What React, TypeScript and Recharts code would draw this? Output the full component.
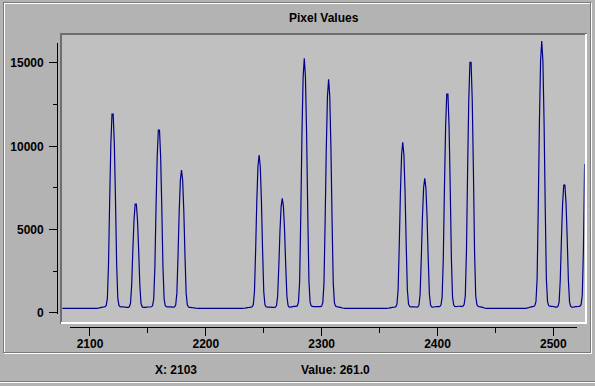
import React from 'react';
import { LineChart, Line, XAxis, YAxis } from 'recharts';

const BASELINE = 261;
const baselineAnchors = [2076];

const group1Start = 2106;
const group1 = [261, 273, 287, 309, 320, 332, 344, 362, 439, 856, 2938, 6805, 10137, 11922, 11922, 10137, 6805, 2938, 856, 439, 362, 350, 346, 346, 341, 325, 318, 315, 357, 580, 1699, 3775, 5564, 6522, 6522, 5564, 3775, 1699, 580, 357, 315, 317, 323, 337, 342, 341, 343, 354, 425, 807, 2718, 6266, 9324, 10962, 10962, 9324, 6266, 2718, 807, 425, 359, 349, 352, 353, 351, 339, 334, 344, 469, 1174, 3415, 6072, 7939, 8562, 7939, 6072, 3415, 1174, 469, 344, 323, 315, 307, 298, 286, 273, 266, 261];

const group2Start = 2232;
const group2 = [261, 267, 275, 289, 302, 312, 321, 330, 353, 491, 1273, 3757, 6702, 8772, 9462, 8772, 6702, 3757, 1273, 491, 353, 334, 331, 332, 332, 325, 318, 317, 327, 426, 987, 2770, 4883, 6369, 6864, 6369, 4883, 2770, 987, 426, 336, 334, 349, 365, 374, 379, 384, 415, 636, 1911, 5962, 10763, 14139, 15264, 14139, 10763, 5962, 1911, 636, 411, 376, 367, 365, 370, 368, 360, 359, 364, 398, 605, 1773, 5483, 9881, 12973, 14004, 12973, 9881, 5483, 1773, 605, 398, 364, 350, 337, 323, 302, 282, 269, 261];

const group3Start = 2356;
const group3 = [261, 267, 276, 291, 306, 316, 326, 336, 361, 510, 1357, 4047, 7235, 9477, 10224, 9477, 7235, 4047, 1357, 510, 366, 348, 349, 351, 349, 342, 335, 345, 456, 1119, 3226, 5723, 7479, 8064, 7479, 5723, 3226, 1119, 456, 344, 333, 341, 356, 362, 363, 365, 378, 458, 917, 3214, 7479, 11153, 13122, 13122, 11153, 7479, 3214, 917, 458, 379, 368, 373, 387, 388, 380, 379, 389, 487, 1014, 3650, 8546, 12764, 15024, 15024, 12764, 8546, 3650, 1014, 487, 389, 366, 351, 336, 321, 294, 276, 261];

const group4Start = 2476;
const group4 = [261, 271, 285, 309, 333, 349, 365, 381, 421, 662, 2026, 6357, 11490, 15099, 16302, 15099, 11490, 6357, 2026, 662, 421, 389, 382, 379, 371, 354, 338, 335, 374, 639, 1960, 4415, 6529, 7662, 7662, 6529, 4415, 1960, 639, 374, 332, 330, 341, 362, 370, 372, 379, 395, 497, 1048, 3804, 8922];

const X_DOMAIN = [2076, 2527];
const Y_DOMAIN = [-600, 16800];
const X_TICKS = [2100, 2150, 2200, 2250, 2300, 2350, 2400, 2450, 2500];
const X_LABELED = [2100, 2200, 2300, 2400, 2500];
const Y_TICKS = [0, 2500, 5000, 7500, 10000, 12500, 15000];
const Y_LABELED = [0, 5000, 10000, 15000];

const TITLE = 'Pixel Values';
const STATUS_X = 'X: 2103';
const STATUS_VALUE = 'Value: 261.0';

const groups: [number, number[]][] = [
  [group1Start, group1],
  [group2Start, group2],
  [group3Start, group3],
  [group4Start, group4],
];

const data = [
  ...baselineAnchors.map((x) => ({ x, v: BASELINE })),
  ...groups.flatMap(([s, vals]) => vals.map((v, i) => ({ x: s + i, v }))),
];

const FONT = "'Liberation Sans', Arial, Helvetica, sans-serif";

const YTick = (props: any) => {
  const { x, y, payload } = props;
  const v = payload.value;
  const major = Y_LABELED.includes(v);
  const yy = Math.floor(y) + 0.5;
  const axisX = x - 4.2;
  return (
    <g>
      <line x1={axisX - (major ? 9 : 5.5)} x2={axisX} y1={yy} y2={yy} stroke="#000" strokeWidth={1} shapeRendering="crispEdges" />
      {major && (
        <text x={x - 18.5} y={y + 4.6} textAnchor="end" fontFamily={FONT} fontWeight={700} fontSize={12} fill="#000">
          {v}
        </text>
      )}
    </g>
  );
};

const XTick = (props: any) => {
  const { x, y, payload } = props;
  const v = payload.value;
  const major = X_LABELED.includes(v);
  const xx = Math.floor(x) + 0.5;
  const axisY = y + 4.8;
  return (
    <g>
      <line x1={xx} x2={xx} y1={axisY} y2={axisY + (major ? 8 : 5.5)} stroke="#000" strokeWidth={1} shapeRendering="crispEdges" />
      {major && (
        <text x={x} y={y + 25} textAnchor="middle" fontFamily={FONT} fontWeight={700} fontSize={12} fill="#000">
          {v}
        </text>
      )}
    </g>
  );
};

export default function App() {
  return (
    <div style={{ position: 'absolute', left: 0, top: 0, width: 595, height: 386, background: '#b3b3b3', overflow: 'hidden' }}>
      <svg width={595} height={386} style={{ position: 'absolute', left: 0, top: 0 }} shapeRendering="crispEdges">
        <rect x={0} y={0} width={595} height={386} fill="#b3b3b3" />
        <rect x={4.5} y={3.5} width={587} height={350} fill="none" stroke="#ffffff" />
        <rect x={3.5} y={2.5} width={587} height={350} fill="none" stroke="#7a7a7a" />
        <rect x={60} y={33} width={527} height={291} fill="#c0c0c0" />
        <rect x={60} y={33} width={527} height={2} fill="#6e6e6e" />
        <rect x={60} y={33} width={2} height={291} fill="#6e6e6e" />
        <rect x={61} y={322} width={526} height={2} fill="#ffffff" />
        <rect x={585} y={34} width={2} height={290} fill="#ffffff" />
        <rect x={57} y={43} width={1} height={271} fill="#000" />
        <rect x={70} y={327} width={507} height={1} fill="#000" />
        <rect x={0} y={381} width={595} height={1} fill="#7a7a7a" />
        <rect x={0} y={382} width={595} height={1} fill="#ffffff" />
        <text x={323.7} y={21.6} textAnchor="middle" fontFamily={FONT} fontWeight={700} fontSize={12} fill="#000">
          {TITLE}
        </text>
        <text x={155} y={374.4} fontFamily={FONT} fontWeight={700} fontSize={12} fill="#000">
          {STATUS_X}
        </text>
        <text x={301} y={374.4} fontFamily={FONT} fontWeight={700} fontSize={12} fill="#000">
          {STATUS_VALUE}
        </text>
      </svg>
      <div style={{ position: 'absolute', left: 0, top: 0, width: 595, height: 386 }}>
        <LineChart
          width={595}
          height={386}
          data={data}
          margin={{ top: 32.7, right: 10.4, bottom: 23.3, left: 12.2 }}
        >
          <XAxis
            type="number"
            dataKey="x"
            domain={X_DOMAIN}
            ticks={X_TICKS}
            interval={0}
            allowDataOverflow
            axisLine={false}
            tickLine={false}
            tickSize={0}
            tickMargin={0}
            height={40}
            tick={<XTick />}
          />
          <YAxis
            type="number"
            domain={Y_DOMAIN}
            ticks={Y_TICKS}
            interval={0}
            allowDataOverflow
            axisLine={false}
            tickLine={false}
            tickSize={0}
            tickMargin={0}
            width={50}
            tick={<YTick />}
          />
          <Line
            type="linear"
            dataKey="v"
            stroke="#00008c"
            strokeWidth={1.2}
            dot={false}
            activeDot={false}
            isAnimationActive={false}
          />
        </LineChart>
      </div>
    </div>
  );
}
